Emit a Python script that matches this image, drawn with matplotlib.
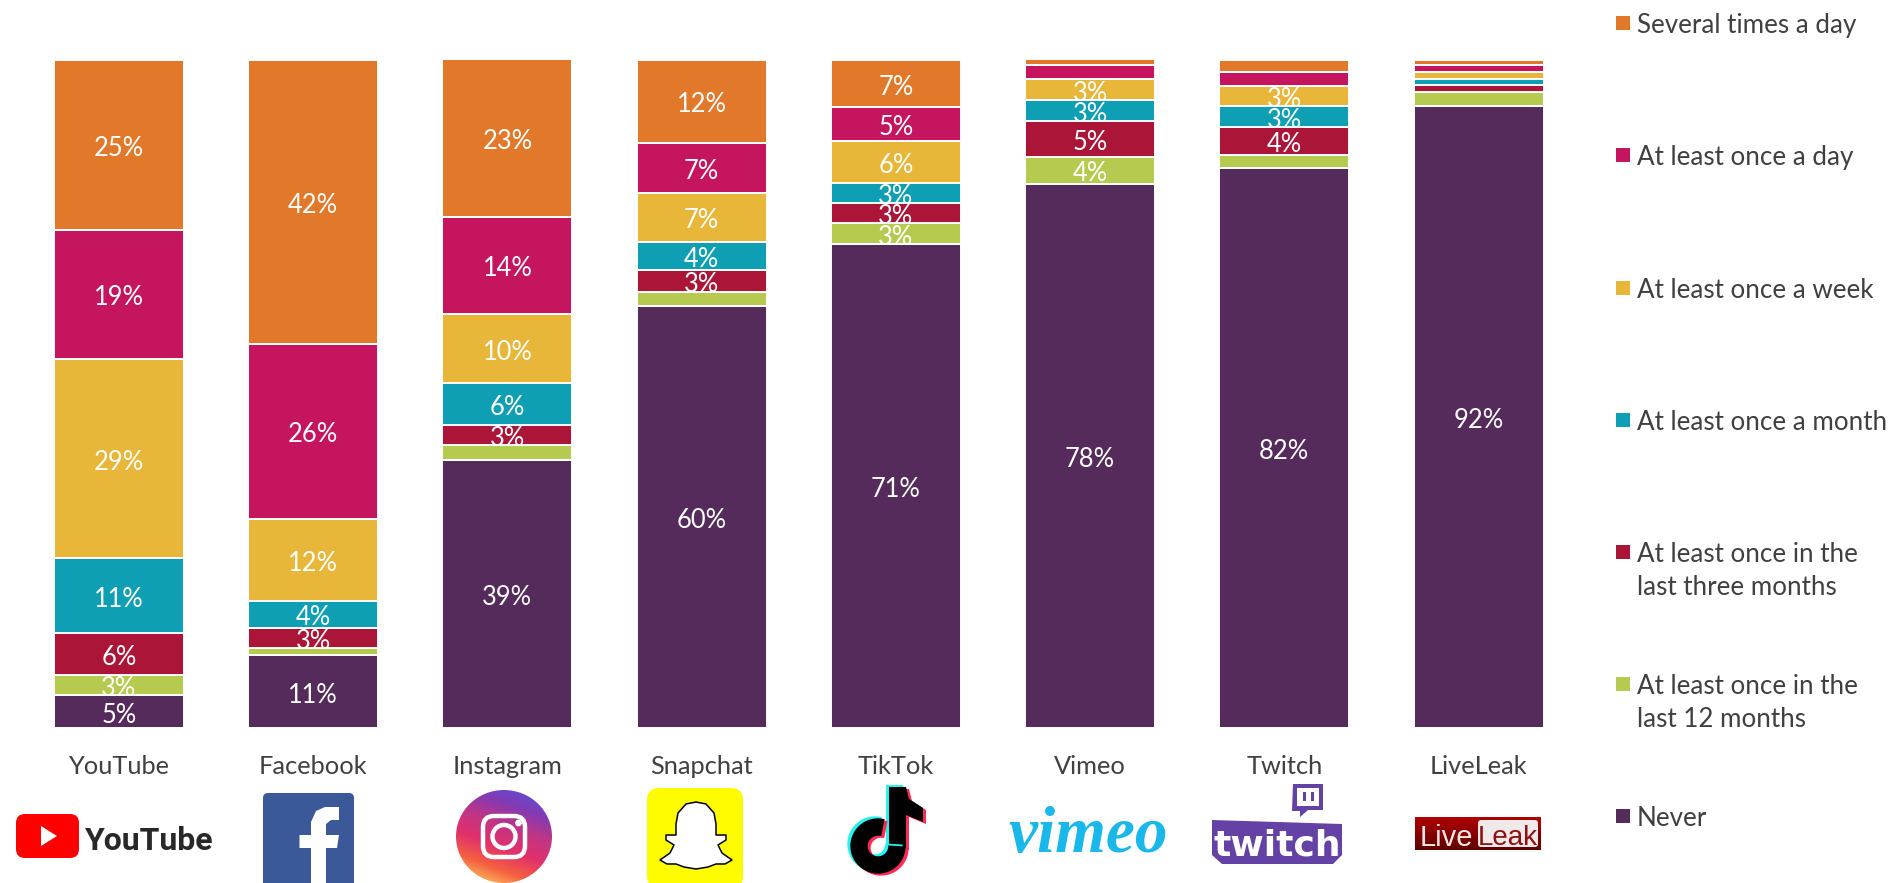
import numpy as np
import matplotlib
matplotlib.use('Agg')
import matplotlib.pyplot as plt
from matplotlib.colors import LinearSegmentedColormap
from matplotlib.patches import Rectangle, FancyBboxPatch, Ellipse, Circle, Polygon

W, H = 1889, 883
plt.rcParams['font.family'] = ['Lato', 'DejaVu Sans']

platforms = ['YouTube', 'Facebook', 'Instagram', 'Snapchat', 'TikTok', 'Vimeo', 'Twitch', 'LiveLeak']

# bar shares as drawn (the chart is stretched to 100, printed labels are the raw numbers)
never = [5.0, 11.0, 40.2, 63.2, 72.5, 81.4, 83.8, 93.1]
last_12_months = [3.0, 1.05, 2.1, 2.1, 3.0, 4.1, 2.0, 2.06]
last_3_months = [6.2, 3.0, 3.1, 3.2, 3.1, 5.3, 4.2, 1.0]
once_a_month = [11.3, 4.0, 6.2, 4.2, 3.0, 3.1, 3.0, 1.0]
once_a_week = [29.7, 12.2, 10.4, 7.4, 6.2, 3.2, 3.1, 1.05]
once_a_day = [19.4, 26.3, 14.5, 7.4, 5.1, 2.1, 2.1, 1.0]
several_a_day = [25.4, 42.4, 23.6, 12.5, 7.0, 0.9, 1.8, 0.8]

# printed labels, None where the chart prints nothing
never_lab = [5, 11, 39, 60, 71, 78, 82, 92]
last_12_lab = [3, None, None, None, 3, 4, None, None]
last_3_lab = [6, 3, 3, 3, 3, 5, 4, None]
month_lab = [11, 4, 6, 4, 3, 3, 3, None]
week_lab = [29, 12, 10, 7, 6, 3, 3, None]
day_lab = [19, 26, 14, 7, 5, None, None, None]
several_lab = [25, 42, 23, 12, 7, None, None, None]

series = [never, last_12_months, last_3_months, once_a_month, once_a_week, once_a_day, several_a_day]
labels = [never_lab, last_12_lab, last_3_lab, month_lab, week_lab, day_lab, several_lab]
colors = ['#542b5a', '#b7ca50', '#ab1538', '#0f9fb4', '#e8b638', '#c5155e', '#e2792a']
names = ['Never', 'At least once in the\nlast 12 months', 'At least once in the\nlast three months',
         'At least once a month', 'At least once a week', 'At least once a day', 'Several times a day']

fig = plt.figure(figsize=(W / 100, H / 100), dpi=100)

# main axes, placed by pixels
px_left, px_right, px_top, px_bottom = 21.85, 1575.7, 59.0, 728.3
ax = fig.add_axes([px_left / W, 1 - px_bottom / H, (px_right - px_left) / W, (px_bottom - px_top) / H])
x = np.arange(len(platforms))
bottom = np.zeros(len(platforms))
for vals, labs, col in zip(series, labels, colors):
    vals = np.array(vals)
    ax.bar(x, vals, width=0.669, bottom=bottom, color=col, edgecolor='white', linewidth=1.4, clip_on=False)
    for i in x:
        if labs[i] is not None:
            ax.text(i, bottom[i] + vals[i] / 2 - 0.15, f'{labs[i]}%', color='white', fontsize=18.4,
                    ha='center', va='center_baseline', zorder=5)
    bottom += vals
ax.set_xlim(-0.5, 7.5)
ax.set_ylim(0, bottom.max())
ax.set_xticks(x)
ax.set_xticklabels(platforms, fontsize=18.3, color='#404040')
ax.tick_params(axis='x', length=0, pad=19)
ax.set_yticks([])
for s in ax.spines.values():
    s.set_visible(False)

# overlay in pixel coordinates for legend and logos
ov = fig.add_axes([0, 0, 1, 1], zorder=10)
ov.set_xlim(0, W)
ov.set_ylim(H, 0)
ov.axis('off')
ov.patch.set_alpha(0)

legend_y = [816, 684, 552, 420, 288, 155, 23]
for y, name, col in zip(legend_y, names, colors):
    ov.add_patch(Rectangle((1616, y - 7), 14, 14, color=col, lw=0))
    ov.text(1637, y - 10, name, fontsize=18.7, color='#404040', va='top', ha='left', linespacing=1.42)

# YouTube logo
ov.add_patch(FancyBboxPatch((22, 820), 51, 32, boxstyle='round,pad=6,rounding_size=9', fc='#ff0000', ec='none'))
ov.add_patch(Polygon([(41, 826), (41, 846), (57, 836)], fc='white', ec='none'))
ov.text(149, 838, 'YouTube', fontsize=23, fontweight='bold', color='#282828',
        family='Roboto', ha='center', va='center_baseline')

# Facebook logo
ov.add_patch(FancyBboxPatch((267, 797), 83, 90, boxstyle='round,pad=4,rounding_size=5', fc='#3b5998', ec='none'))
ov.add_patch(Polygon([(311, 883), (311, 848), (299.5, 848), (299.5, 835), (311, 835), (311, 822), (316, 811), (325, 807),
                      (339, 807), (339, 820), (331, 820), (326, 824), (326, 835), (339, 835), (337, 848), (326, 848), (326, 883)],
                     fc='white', ec='none'))

# Instagram logo
gy, gx = np.mgrid[0:1:120j, 0:1:120j]
insta_cmap = LinearSegmentedColormap.from_list('insta', ['#fdc75e', '#f56040', '#e1306c', '#c13584', '#833ab4', '#5b51d8'])
im = ov.imshow(0.8 * (1 - gy) + 0.3 * gx - 0.05, extent=(456, 552, 883, 790), cmap=insta_cmap, aspect='auto', zorder=2,
               vmin=0, vmax=1)
clip = Ellipse((504, 836.5), 96, 93, transform=ov.transData)
im.set_clip_path(clip)
ov.set_xlim(0, W)
ov.set_ylim(H, 0)
ov.add_patch(FancyBboxPatch((486, 819), 36, 35, boxstyle='round,pad=3,rounding_size=11', fc='none', ec='white', lw=3.2, zorder=3))
ov.add_patch(Circle((504, 836.5), 11.5, fc='none', ec='white', lw=3.2, zorder=3))
ov.add_patch(Circle((518.5, 823), 3.4, fc='white', ec='none', zorder=3))

# Snapchat logo
ov.add_patch(FancyBboxPatch((657, 798), 76, 80, boxstyle='round,pad=10,rounding_size=12', fc='#fffc00', ec='none'))
ghost_half = [(696, 802), (706, 804), (714, 813), (716, 824), (716, 835), (726, 835), (726, 840), (718, 845),
              (722, 853), (732, 860), (725, 864), (716, 864), (708, 867), (696, 869)]
ghost = ghost_half + [(2 * 696 - px, py) for px, py in ghost_half[-2:0:-1]]
ov.add_patch(Polygon(ghost, closed=True, fc='white', ec='black', lw=1.1, joinstyle='round'))


# TikTok logo: same note drawn three times
def note(dx, dy, col):
    t = np.radians(np.linspace(0, 285, 40))
    ov.plot(878 + dx + 19 * np.cos(t), 846 + dy + 19 * np.sin(t), color=col, lw=12.5, solid_capstyle='butt')
    ov.add_patch(Polygon([(889 + dx, 787 + dy), (906 + dx, 787 + dy), (909 + dx, 799 + dy), (923 + dx, 808 + dy),
                          (923 + dx, 822 + dy), (906 + dx, 815 + dy), (906 + dx, 848 + dy), (889 + dx, 848 + dy)],
                         fc=col, ec='none'))


note(-3, -2, '#25f4ee')
note(3, 2, '#fe2c55')
note(0, 0, 'black')

# Vimeo logo
ov.text(1088, 829, 'vimeo', fontsize=47, fontweight='bold', style='italic', family='Liberation Serif',
        color='#1ab7ea', ha='center', va='center_baseline')

# Twitch logo
tw = '#6441a4'
ov.add_patch(Polygon([(1293, 784), (1323, 784), (1323, 810), (1308, 810), (1300, 817), (1300, 811), (1292, 811)], fc=tw, ec='none'))
ov.add_patch(Rectangle((1297, 788), 22, 18, fc='white', ec='none'))
ov.add_patch(Rectangle((1303, 792), 3, 9, fc=tw, ec='none'))
ov.add_patch(Rectangle((1311, 792), 3, 9, fc=tw, ec='none'))
ov.add_patch(Polygon([(1212, 820), (1342, 824), (1342, 855), (1333, 864), (1222, 864), (1212, 855)], fc=tw, ec='none'))
ov.text(1277, 842, 'twitch', fontsize=26, fontweight='bold', color='white', ha='center', va='center_baseline',
        family='DejaVu Sans')

# LiveLeak logo
ll = np.linspace(0, 1, 40).reshape(-1, 1)
ll_cmap = LinearSegmentedColormap.from_list('ll', ['#b00000', '#5e0000'])
im2 = ov.imshow(ll, extent=(1415, 1541, 850, 817), cmap=ll_cmap, aspect='auto', zorder=2, origin='upper')
ov.set_xlim(0, W)
ov.set_ylim(H, 0)
ov.add_patch(FancyBboxPatch((1478, 820), 60, 27, boxstyle='round,pad=0,rounding_size=3', fc='#efe9e9', ec='none', zorder=3))
ov.text(1446, 835, 'Live', fontsize=21, color='#f3e6e6', ha='center', va='center_baseline', zorder=4, family='Liberation Sans')
ov.text(1508, 835, 'Leak', fontsize=20, color='#8f1010', ha='center', va='center_baseline', zorder=4, family='Liberation Sans')

fig.savefig('out.png', dpi=100)
